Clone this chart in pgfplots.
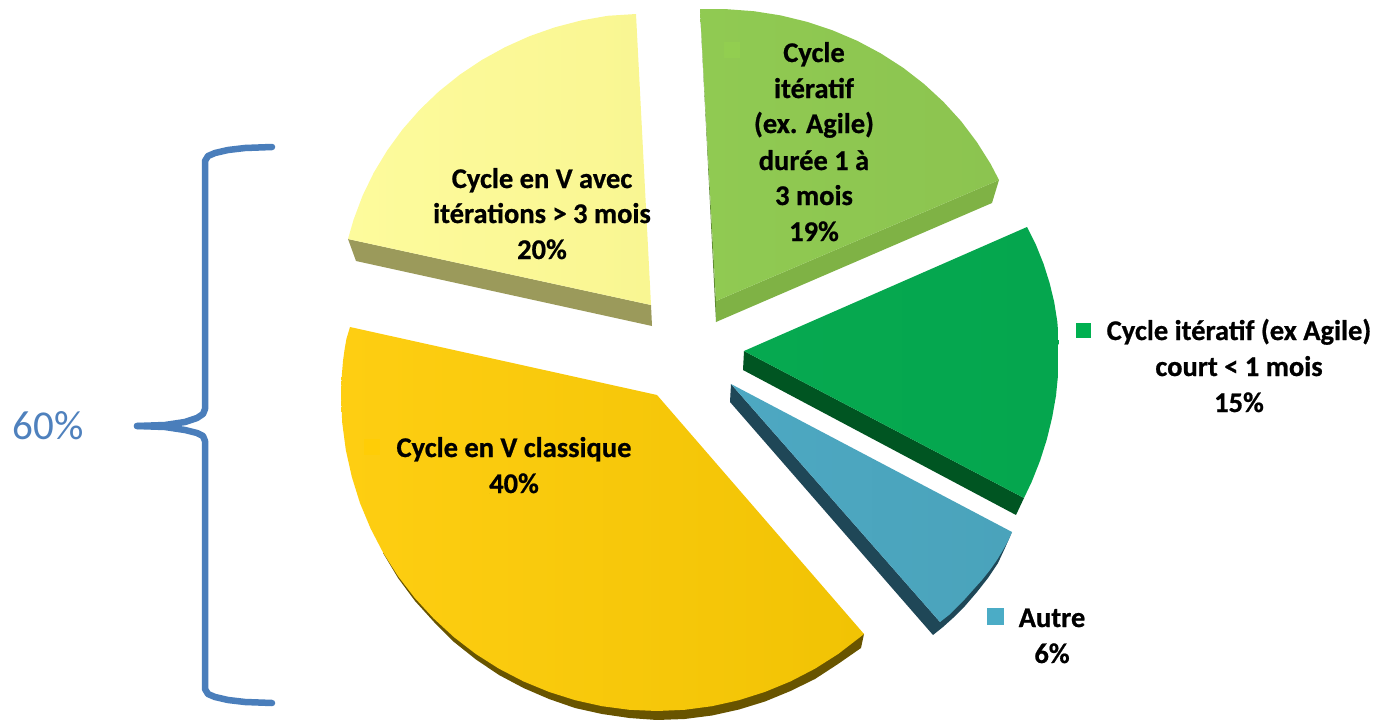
\documentclass[border=0pt]{standalone}
\usepackage{pgfplots}
\pgfplotsset{compat=1.18}
\usepackage{fontspec}
\setmainfont{Carlito}[BoldFeatures={FakeBold=0.7}]
\definecolor{yelA}{HTML}{FDFB9C}\definecolor{yelB}{HTML}{F9F692}\definecolor{yelS}{HTML}{9B9A5B}
\definecolor{lgrA}{HTML}{90CA52}\definecolor{lgrB}{HTML}{8CC450}\definecolor{lgrS}{HTML}{7FB245}\definecolor{lgrD}{HTML}{5E8A33}
\definecolor{dgrA}{HTML}{06A950}\definecolor{dgrB}{HTML}{05A64E}\definecolor{dgrS}{HTML}{005522}
\definecolor{teaA}{HTML}{4DA8C2}\definecolor{teaB}{HTML}{4AA3BB}\definecolor{teaS}{HTML}{1F4757}
\definecolor{golA}{HTML}{FECE12}\definecolor{golB}{HTML}{F1C304}\definecolor{golS}{HTML}{685400}
\definecolor{brace}{HTML}{4A7EBB}\definecolor{pct}{HTML}{4F81BD}
\definecolor{keyL}{HTML}{92CE50}\definecolor{keyG}{HTML}{FFCD06}\definecolor{keyD}{HTML}{00B050}\definecolor{keyT}{HTML}{4BACC6}
\newcommand\lab[3]{\node[anchor=base,font=\fontsize{28.5}{28.5}\selectfont\bfseries,text=black,inner sep=0pt] at (axis cs:#1,#2) {#3};}
\begin{document}
\begin{tikzpicture}
\begin{axis}[
  scale only axis, width=1377pt, height=720pt,
  xmin=0, xmax=1377, ymin=0, ymax=720, y dir=reverse,
  hide axis, clip=false,
]
\path (axis cs:0,0) rectangle (axis cs:1377,720);
% --- sides ---
\addplot[draw=none, fill=yelS] coordinates {(348,239)(651,305)(652,326)(356,261)} --cycle;
\addplot[draw=none, fill=lgrD] coordinates {(700,9)(716,301)(716,322)} --cycle;
\addplot[draw=none, fill=lgrS] coordinates {(999,180)(992,203)(716,322)(716,301)} --cycle;
\addplot[draw=none, fill=dgrS] coordinates {(744,351)(1024,498)(1016,515)(743,370)} --cycle;
\addplot[draw=none, fill=teaS] coordinates {(731,384)(940,622)(1012,532)(1005,548)(998,563)(988,578)(977,592)(965,606)(953,618)(943,627)(933,635)(730,402)} --cycle;
\addplot[draw=none, fill=golS] coordinates {(383,553)(398,578)(415,601)(434,622)(454,642)(476,659.5)(499,675)(523.5,688)(549,699)(575,708)(602,714)(629.4,718)(657,720)(684.6,719)(712,715.5)(739,709.5)(765,701.5)(790.5,691)(815,679)(838,664)(861,648)(864,634)} --cycle;
% --- top faces ---
\addplot[draw=none, shade, shading angle=90, left color=yelA, right color=yelB] coordinates {
 (348,239)(353.6,219.6)(362.6,195.6)(373.9,172.4)(387.3,150.3)(402.6,129.3)(419.9,109.6)(438.9,91.4)(459.5,74.9)(481.6,60.1)(505,47.2)(529.5,36.2)(554.9,27.3)(581,20.5)(607.7,15.8)(636,14)(651,305)} --cycle;
\addplot[draw=none, shade, shading angle=90, left color=lgrA, right color=lgrB] coordinates {
 (700,9)(726.9,9.2)(753.9,11.2)(780.7,15.4)(806.9,21.8)(832.5,30.3)(857.2,40.8)(880.8,53.4)(903.2,67.8)(924.1,84)(943.5,101.9)(961.1,121.2)(976.8,142)(990.6,163.9)(999,180)(716,301)} --cycle;
\addplot[draw=none, shade, shading angle=90, left color=dgrA, right color=dgrB] coordinates {
 (744,351)(1027,227)(1036,245)(1043.6,264)(1049.6,283)(1054.2,302)(1057.3,321.5)(1058.8,341)(1058.2,373.4)(1056,395.7)(1052.1,417.7)(1046.8,439.5)(1040,460.8)(1031.8,481.6)(1024,498)} --cycle;
\addplot[draw=none, shade, shading angle=90, left color=teaA, right color=teaB] coordinates {
 (731,384)(1012,532)(1008,541)(1003,550)(997,560)(990,570)(982,580)(973,590)(965,599)(957,607)(949,615)(940,622)} --cycle;
\addplot[draw=none, shade, shading angle=90, left color=golA, right color=golB] coordinates {
 (350,327)(346.4,339)(344.5,350)(343,361)(342,373)(341.3,384)(341,395)(342.2,422.6)(345.8,449.9)(351.8,476.8)(360,503.1)(370.6,528.5)(383.3,553)(398.1,576.3)(414.9,598.1)(433.6,618.4)(453.9,637.1)(475.7,653.9)(499,668.7)(523.5,681.4)(549,691.9)(575.2,700.2)(602.1,706.2)(629.4,709.8)(657,711)(684.6,709.8)(711.9,706.2)(738.8,700.2)(765,691.9)(790.5,681.4)(815,668.7)(838.3,653.9)(860.1,637.1)(864,634)(657,395)} --cycle;
% --- legend keys ---
\addplot[only marks, mark=square*, mark size=7.5pt, color=keyL] coordinates {(732,50)};
\addplot[only marks, mark=square*, mark size=7.5pt, color=keyG] coordinates {(372,447)};
\addplot[only marks, mark=square*, mark size=7pt, color=keyD] coordinates {(1083,330)};
\addplot[only marks, mark=square*, mark size=8pt, color=keyT] coordinates {(995,616)};
% --- brace ---
\addplot[draw=brace, line width=6.5pt, line join=round, line cap=round, no marks] coordinates {
 (272,147)(245,148)(228,150)(215,153)(208,156)(205,161)(205,409)(203,414)(197,418)(185,422)(165,425)(137,426)};
\addplot[draw=brace, line width=6.5pt, line join=round, line cap=round, no marks] coordinates {
 (137,426)(165,427)(185,430)(197,433)(203,436)(205,441)(205,689)(208,694)(215,697)(228,700)(245,702)(272,703)};
% --- text ---
\lab{542}{188}{Cycle en V avec}
\lab{542}{223}{itérations > 3 mois}
\lab{542}{259}{20\%}
\lab{814}{62}{Cycle}
\lab{814}{98}{itératif}
\lab{814}{133}{(ex. Agile)}
\lab{814}{170}{durée 1 à}
\lab{814}{205}{3 mois}
\lab{814}{241}{19\%}
\lab{1239}{340}{Cycle itératif (ex Agile)}
\lab{1239}{376}{court < 1 mois}
\lab{1239}{412}{15\%}
\lab{514}{457}{Cycle en V classique}
\lab{514}{493}{40\%}
\lab{1052}{627}{Autre}
\lab{1052}{663}{6\%}
\node[anchor=base,font=\fontsize{41}{41}\selectfont,text=pct,inner sep=0pt] at (axis cs:48,439) {60\%};
\end{axis}
\end{tikzpicture}
\end{document}
